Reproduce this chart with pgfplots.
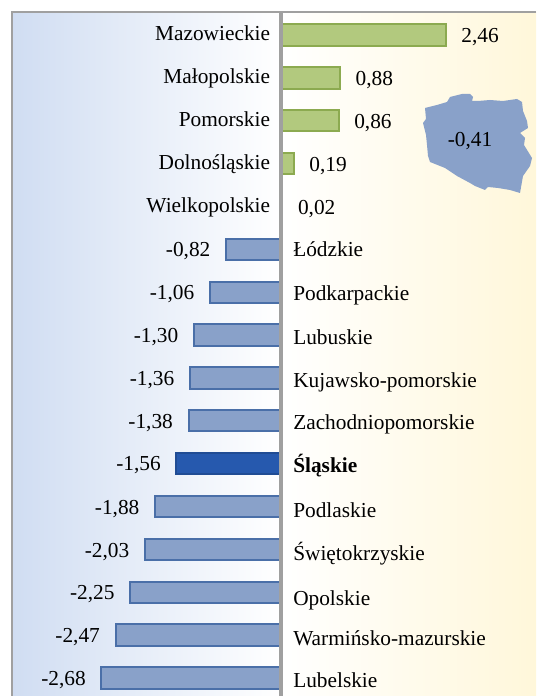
\documentclass[border=0pt]{standalone}
\usepackage{pgfplots}
\pgfplotsset{compat=1.18}
\usepackage{pgfplotstable}
\usepackage{fontspec}
\setmainfont{Liberation Serif}
\definecolor{gpf}{HTML}{B2C97E}
\definecolor{gpd}{HTML}{8CAA50}
\definecolor{bf}{HTML}{89A1C9}
\definecolor{bd}{HTML}{4A6FA8}
\definecolor{sf}{HTML}{2659AE}
\definecolor{ln}{HTML}{A0A0A0}
\pgfplotstableread{
i ny v lab name
0 -0.03 2.46 2,46 Mazowieckie
1 0.98 0.88 0,88 Małopolskie
2 1.97 0.86 0,86 Pomorskie
3 2.98 0.19 0,19 Dolnośląskie
4 3.98 0.02 0,02 Wielkopolskie
}\pos
\pgfplotstableread{
i ny v lab name
5 5.00 -0.82 -0,82 Łódzkie
6 6.03 -1.06 -1,06 Podkarpackie
7 7.05 -1.30 -1,30 Lubuskie
8 8.05 -1.36 -1,36 Kujawsko-pomorskie
9 9.05 -1.38 -1,38 Zachodniopomorskie
11 11.09 -1.88 -1,88 Podlaskie
12 12.09 -2.03 -2,03 Świętokrzyskie
13 13.14 -2.25 -2,25 Opolskie
14 14.07 -2.47 -2,47 Warmińsko-mazurskie
15 15.05 -2.68 -2,68 Lubelskie
}\negt
\pgfplotstableread{
i ny v lab name
10 10 -1.56 -1,56 Śląskie
}\sl
\pgfplotstableread{
i ny v lab name
10 10.05 0 0 \textbf{Śląskie}
}\slb
\begin{document}
\begin{tikzpicture}
\begin{scope}[shift={(0,522pt)},x=0.75pt,y=-0.75pt]
\fill[white] (0,0) rectangle (536,696);
\shade[left color={rgb,255:red,208;green,221;blue,242},right color=white] (12,12) rectangle (281,696);
\shade[left color=white,right color={rgb,255:red,255;green,247;blue,218}] (281,12) rectangle (536,696);
\draw[ln,line width=1.5pt] (536,12) -- (12,12) -- (12,696);
\end{scope}
\begin{axis}[at={(0,0)},anchor=south west,scale only axis,width=402pt,height=522pt,
 hide axis,clip=false,
 xmin=-4.194,xmax=3.806,ymin=-0.816,ymax=15.42,y dir=reverse,
 xbar,bar width=16pt,bar shift=0pt,
 point meta=explicit symbolic,
 nodes near coords,
 every node near coord/.append style={font=\fontsize{16}{19}\selectfont,text=black,inner sep=0pt,text height=11pt,text depth=3.5pt}]
\addplot[fill=gpf,draw=gpd,line width=1.5pt,
 every node near coord/.append style={anchor=west,xshift=11pt,yshift=-2.2pt}]
 table[x=v,y=i,meta=lab]{\pos};
\addplot[fill=bf,draw=bd,line width=1.5pt,
 every node near coord/.append style={anchor=east,xshift=-11pt,yshift=-2pt}]
 table[x=v,y=i,meta=lab]{\negt};
\addplot[fill=sf,draw=sf!85!black,line width=1.5pt,
 every node near coord/.append style={anchor=east,xshift=-11pt,yshift=-1.5pt}]
 table[x=v,y=i,meta=lab]{\sl};
\addplot[draw=none,fill=none,every node near coord/.append style={anchor=east,xshift=-8pt,yshift=-1.5pt}]
 table[x expr=0,y=ny,meta=name]{\pos};
\addplot[draw=none,fill=none,every node near coord/.append style={anchor=west,xshift=9pt,yshift=-1.5pt}]
 table[x expr=0,y=ny,meta=name]{\negt};
\addplot[draw=none,fill=none,every node near coord/.append style={anchor=west,xshift=9pt,yshift=-1.5pt}]
 table[x expr=0,y=ny,meta=name]{\slb};
\end{axis}
\begin{scope}[shift={(0,522pt)},x=0.75pt,y=-0.75pt]
\draw[ln,line width=2.4pt] (281,12) -- (281,696);
\fill[bf] (425,108)--(437,105)--(447,102)--(450,97)--(462,94)--(470,94)--(473,97)--(472,101)--(478,101)--(490,100)--(503,101)--(517,99)--(522,102)--(523,111)--(527,121)--(528,128)--(520,133)--(525,138)--(524,145)--(532,158)--(530,166)--(523,176)--(520,193)--(510,190)--(498,188)--(488,187)--(485,190)--(475,186)--(470,183)--(457,176)--(445,168)--(430,162)--(428,156)--(427,145)--(426,135)--(423,123)--(426,119)--cycle;
\node[font=\fontsize{16}{19}\selectfont] at (470,141) {-0,41};
\end{scope}
\pgfresetboundingbox
\path (0,0) rectangle (402pt,522pt);
\end{tikzpicture}
\end{document}
